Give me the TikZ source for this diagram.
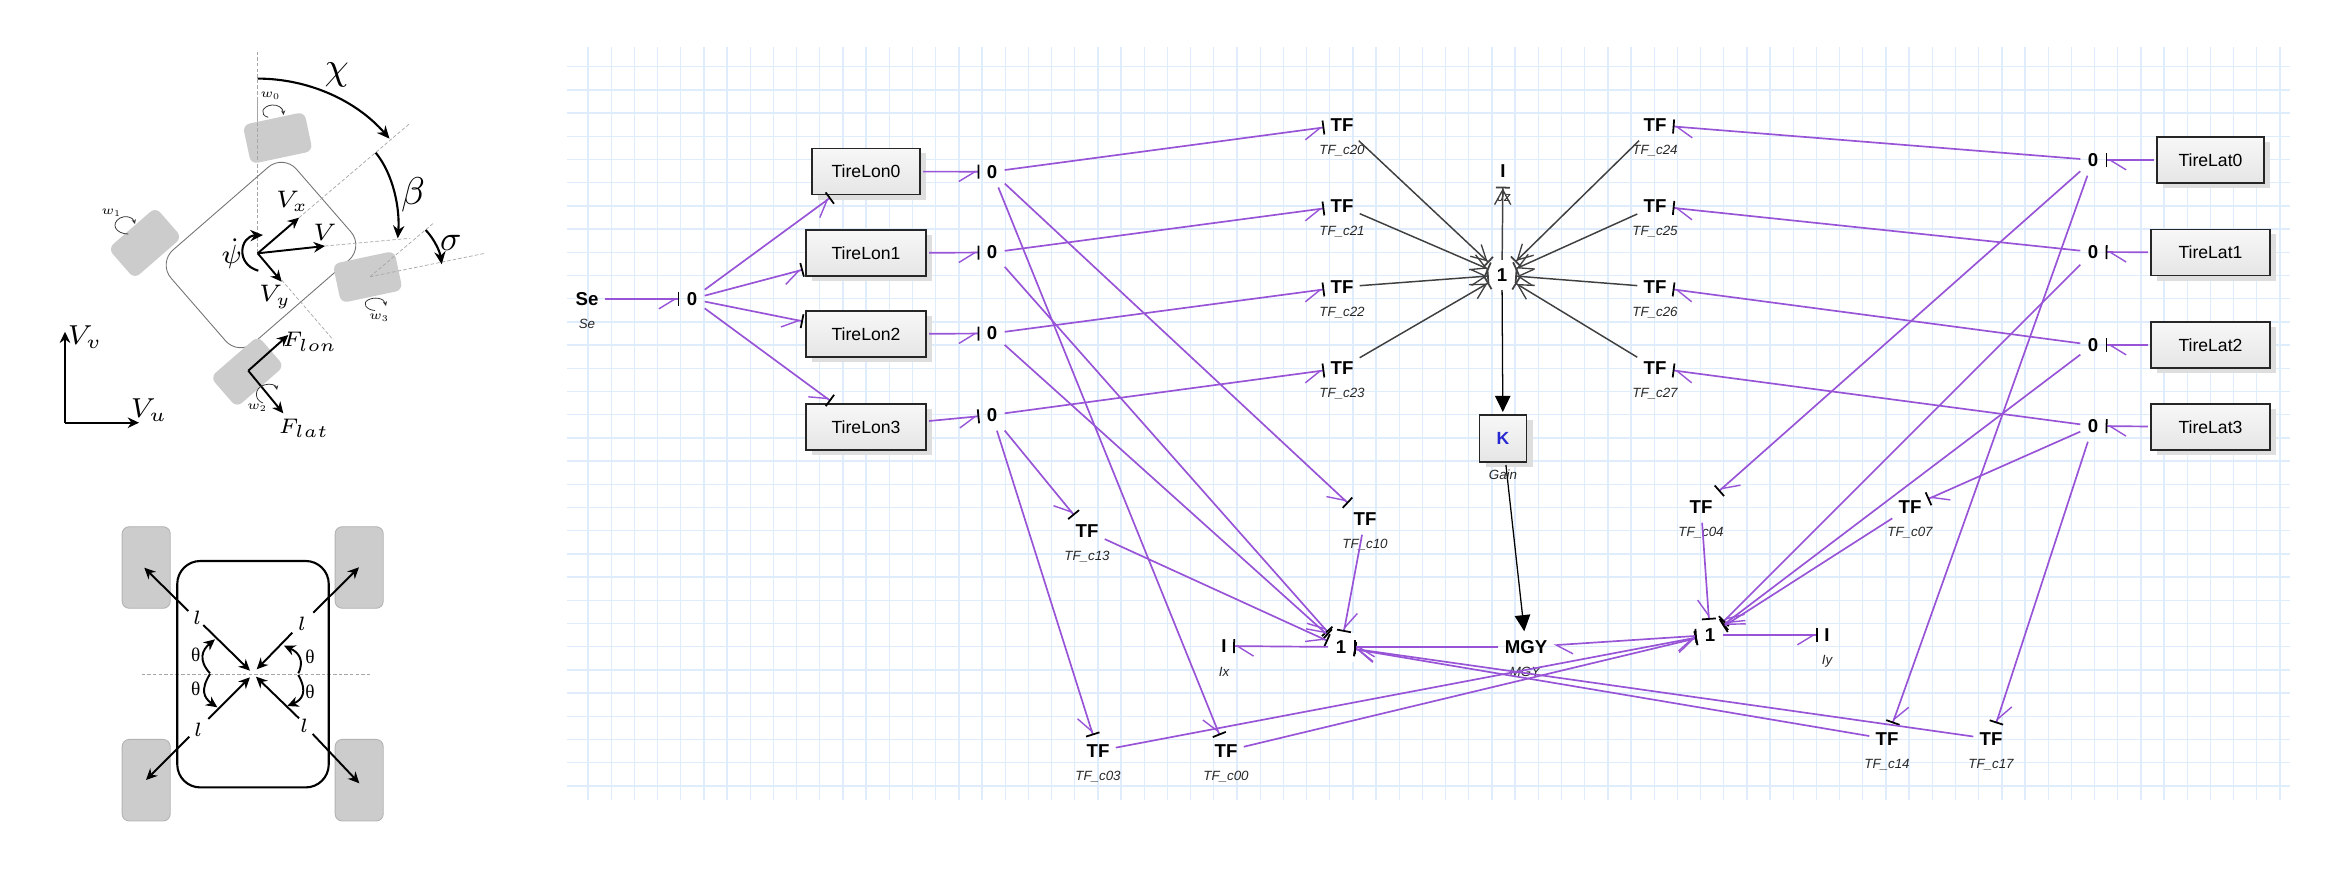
\documentclass[tikz,border=0pt]{standalone}
\usepackage{fix-cm}
\usepackage[no-math]{fontspec}
\setmainfont{Liberation Sans}
\newfontfamily\thetafont{Liberation Serif}
\usetikzlibrary{arrows.meta, shadows}
\definecolor{bondpurple}{RGB}{152, 84, 214}
\definecolor{bonddark}{RGB}{64, 64, 64}
\definecolor{gridblue}{RGB}{222, 236, 252}
\definecolor{tiregray}{RGB}{204, 204, 204}
\definecolor{kblue}{RGB}{40, 40, 210}
\newcommand{\pts}[1]{\fontsize{#1}{#1}\selectfont}
\tikzset{
  bondr/.style={bondpurple, line width=0.48pt,
    -{Straight Barb[right, length=4.6pt, width=5.6pt, line width=0.4pt] Bar[black, width=4pt, line width=0.5pt]}},
  bondl/.style={bondpurple, line width=0.48pt,
    -{Straight Barb[left, length=4.6pt, width=5.6pt, line width=0.4pt] Bar[black, width=4pt, line width=0.5pt]}},
  bonddk/.style={bonddark, line width=0.42pt,
    -{Straight Barb[length=4.2pt, width=4.6pt, line width=0.38pt] Bar[width=4pt, line width=0.5pt]}},
  bondkk/.style={black, line width=0.36pt, -{Triangle[length=4.6pt, width=4.4pt]}},
  elem/.style={font=\pts{5.3}\bfseries, inner sep=0pt, minimum width=0.34cm, minimum height=0.3cm},
  zeronode/.style={elem, minimum width=0.24cm},
  onenode/.style={elem, fill=white, minimum width=0.25cm, minimum height=0.29cm},
  inode/.style={elem, minimum width=0.17cm},
  mgynode/.style={elem, minimum width=0.54cm},
  bondlabel/.style={font=\pts{3.8}\itshape, inner sep=0pt, text=black!85},
  tirebox/.style={draw=black!85, line width=0.5pt, top color=black!3, bottom color=black!10,
    font=\pts{5}, inner sep=0pt, outer sep=0.03cm, minimum height=0.46cm, minimum width=1.2cm,
    drop shadow={shadow xshift=0.06cm, shadow yshift=-0.05cm, fill=black!13, opacity=1}},
  gridline/.style={gridblue, line width=0.38pt},
  wheel/.style={fill=tiregray, rounded corners=0.07cm, inner sep=0pt},
  guide/.style={black!35, line width=0.2pt, dash pattern=on 1pt off 0.6pt},
  kin/.style={black, line width=0.55pt, -{Stealth[length=3.2pt, width=3pt]}},
  bigarc/.style={black, line width=0.6pt, -{Stealth[length=3.6pt, width=3.2pt]}},
  spin/.style={black!80, line width=0.22pt, -{Stealth[length=1.3pt, width=1.2pt]}},
  mathsym/.style={inner sep=0pt, font=\pts{#1}},
  mathsym/.default=7.5,
}
\begin{document}
\begin{tikzpicture}[x=0.01cm, y=-0.01cm]
  \useasboundingbox (0,0) rectangle (2344,878);

  % top car
  \draw[guide] (257.7,51.7) -- (257.7,253.3);
  \node[draw=black!55, line width=0.25pt, rounded corners=0.2cm, rotate=41, minimum width=1.66cm,
    minimum height=1.23cm] (carbody) at (261,255) {};
  \node[wheel, rotate=12, minimum width=0.63cm, minimum height=0.4cm] (tire0) at (277.7,138) {};
  \node[wheel, rotate=41, minimum width=0.63cm, minimum height=0.4cm] (tire1) at (145,243) {};
  \node[wheel, rotate=41, minimum width=0.63cm, minimum height=0.4cm] (tire2) at (247.3,371.7) {};
  \node[wheel, rotate=12, minimum width=0.63cm, minimum height=0.4cm] (tire3) at (367.7,277) {};
  \draw[guide] (257.7,100) -- (257.7,160);
  \draw[guide] (299,217.7) -- (410,123.3);
  \draw[guide] (325,246) -- (410,238.3);
  \draw[guide] (281.7,280) -- (333.3,340);
  \draw[guide] (370,276.7) -- (433.3,223.3);
  \draw[guide] (370,276.7) -- (485,253.3);

  \coordinate (cg) at (257.7,253.3);
  \draw[kin] (cg) -- (299,217.7);
  \draw[kin] (cg) -- (325,246);
  \draw[kin] (cg) -- (281.7,281.7);
  \draw[kin] (248.3,370.7) -- (288.3,335);
  \draw[kin] (248.3,370.7) -- (283.3,413.3);
  \draw[kin] (65,422.7) -- (65,331.7);
  \draw[kin] (65,422.7) -- (139,422.7);

  \draw[bigarc] (257.7,78.6) .. controls (308.3,78.6) and (356.3,100.5) .. (389.5,138.7);
  \draw[bigarc] (375.7,152.7) .. controls (394,175) and (400,210) .. (397.7,238.3);
  \draw[bigarc] (425.7,230) .. controls (435,240) and (440,252) .. (441.7,264.3);
  \draw[bigarc] (258.3,270.7) .. controls (235,264) and (240,236) .. (263,235);

  \draw[spin] (268.3,117.3) .. controls (259,115) and (262,106) .. (272,105) .. controls (278,104.5) and (283,108) .. (283.5,115);
  \draw[spin] (128.3,234) .. controls (116,234) and (110,224) .. (120,218) .. controls (125,215) and (133,217) .. (135,224);
  \draw[spin] (263,403) .. controls (254,400) and (254,388) .. (264,385) .. controls (270,383) and (276,385) .. (277,390);
  \draw[spin] (375,310.5) .. controls (366,310) and (362,303) .. (368,300) .. controls (374,296.5) and (384,298) .. (386,306);

  \node[mathsym=11] (chi) at (336.7,75) {$\chi$};
  \node[mathsym=11] (beta) at (413,195) {$\beta$};
  \node[mathsym=10] (sigma) at (450.7,243) {$\sigma$};
  \node[mathsym=6.8] (vx) at (292,201.7) {$V_x$};
  \node[mathsym=6.8] (vtot) at (325,232.7) {$V$};
  \node[mathsym=6.8] (vy) at (275,296.7) {$V_y$};
  \node[mathsym=7.5] (psi) at (231.7,253.3) {$\dot\psi$};
  \node[mathsym=7.8] (vv) at (85,336.7) {$V_v$};
  \node[mathsym=7.8] (vu) at (149,410) {$V_u$};
  \node[mathsym=6] (flon) at (310,341.7) {$F_{lon}$};
  \node[mathsym=6] (flat) at (304,428.3) {$F_{lat}$};
  \node[mathsym=3.6] (w0) at (270.7,96) {$w_0$};
  \node[mathsym=3.6] (w1) at (111.7,212.7) {$w_1$};
  \node[mathsym=3.6] (w2) at (257.3,407.7) {$w_2$};
  \node[mathsym=3.6] (w3) at (379.3,317.7) {$w_3$};

  % bottom car
  \foreach \nm/\x/\y in {tl/146.2/567.5, tr/359.2/567.5, bl/146.2/780.2, br/359.2/780.2}{
    \node[wheel, draw=black!30, line width=0.25pt, minimum width=0.48cm, minimum height=0.815cm] (tire\nm) at (\x,\y) {};
  }
  \draw[guide] (141.7,674) -- (370,674);
  \node[draw=black, line width=0.6pt, rounded corners=0.23cm, minimum width=1.514cm, minimum height=2.263cm, inner sep=0pt] (body2) at (253,674.2) {};
  \draw[kin] (203.3,625) -- (250,670.7);
  \draw[kin] (188.3,611) -- (144.3,567.7);
  \draw[kin] (292.3,632.7) -- (256.7,669.3);
  \draw[kin] (313.3,612.7) -- (359,567.3);
  \draw[kin] (208.3,719) -- (250,677.3);
  \draw[kin] (189.3,736.7) -- (146,780);
  \draw[kin] (299,718.3) -- (256,676.7);
  \draw[kin] (312.7,734) -- (359.3,783.3);
  \draw[kin] (210,673.3) .. controls (198,660) and (202,650) .. (215,639.3);
  \draw[kin] (210,674) .. controls (200,690) and (204,698) .. (217.3,707.3);
  \draw[kin] (298.3,673.3) .. controls (305,660) and (298,652) .. (284,645.7);
  \draw[kin] (298.3,675) .. controls (308,692) and (302,700) .. (287.3,706);
  \foreach \nm/\x/\y in {a/197.3/617.3, b/302/624, c/198.3/729.3, d/304.3/725.7}{
    \node[mathsym=5.5] (ell\nm) at (\x,\y) {$l$};
  }
  \foreach \nm/\x/\y in {a/195.7/655, b/310/656.7, c/195.7/689, d/310/691.7}{
    \node[inner sep=0pt, font=\pts{5.5}] (th\nm) at (\x,\y) {\thetafont θ};
  }

  % bond graph grid
  \foreach \i in {0,...,73}{
    \draw[gridline] ({588+23.178*\i},47) -- ({588+23.178*\i},800);
  }
  \foreach \j in {0,...,31}{
    \draw[gridline] (567,{66.7+23.2*\j}) -- (2290,{66.7+23.2*\j});
  }

  \node[elem] (se) at (587,299) {Se};
  \node[bondlabel] (selab) at (587,324) {Se};
  \node[zeronode] (hub) at (692,299) {0};
  \foreach \n/\y/\w in {0/171.5/1.08, 1/253/1.2, 2/334/1.2, 3/427/1.2}{
    \node[tirebox, minimum width=\w cm] (lon\n) at (866,\y) {TireLon\n};
  }
  \foreach \n/\y in {0/171.7, 1/252.5, 2/333.5, 3/415}{
    \node[zeronode] (z\n) at (992,\y) {0};
  }
  \foreach \n/\y/\w in {0/160/1.07, 1/252.5/1.19, 2/345/1.19, 3/427/1.19}{
    \node[tirebox, minimum width=\w cm] (lat\n) at (2210.5,\y) {TireLat\n};
  }
  \foreach \n/\y in {0/160, 1/252, 2/345, 3/426}{
    \node[zeronode] (zr\n) at (2093,\y) {0};
  }
  \foreach \nm/\x/\y in {c20/1342/125, c21/1342/206, c22/1342/287, c23/1342/368,
      c24/1655/125, c25/1655/206, c26/1655/287, c27/1655/368,
      c13/1087/531, c10/1365/519, c03/1098/751, c00/1226/751,
      c04/1701/507, c07/1910/507, c14/1887/739, c17/1991/739}{
    \node[elem] (tf\nm) at (\x,\y) {TF};
    \node[bondlabel] (lab\nm) at (\x,\y+26) {TF\_\nm};
  }
  \node[onenode] (onetop) at (1502,275) {1};
  \node[onenode] (onel) at (1341,647) {1};
  \node[onenode] (oner) at (1710,635) {1};
  \node[inode] (iz) at (1503,171) {I};
  \node[bondlabel] (izlab) at (1504,197) {Jz};
  \node[inode] (ix) at (1224,646) {I};
  \node[bondlabel] (ixlab) at (1224,672) {Ix};
  \node[inode] (iy) at (1827,635) {I};
  \node[bondlabel] (iylab) at (1827,661) {Iy};
  \node[mgynode] (mgy) at (1526,647) {MGY};
  \node[bondlabel] (mgylab) at (1525,672) {MGY};
  \node[tirebox, minimum width=0.47cm, minimum height=0.47cm, font=\pts{5}\bfseries, text=kblue] (gain) at (1503,438.5) {K};
  \node[bondlabel] (gainlab) at (1503,475) {Gain};

  \draw[bondr] (se) -- (hub);
  \foreach \n in {0,1,2,3}{
    \draw[bondr] (hub) -- (lon\n);
    \draw[bondr] (lon\n) -- (z\n);
    \draw[bondl] (lat\n) -- (zr\n);
  }
  \foreach \a/\b in {z0/tfc20, z1/tfc21, z2/tfc22, z3/tfc23, z0/tfc00, z0/tfc10, z1/onel, z2/onel,
      z3/tfc13, z3/tfc03, tfc13/onel, tfc03/oner, tfc00/oner, tfc04/oner, oner/iy}{
    \draw[bondr] (\a) -- (\b);
  }
  \foreach \a/\b in {zr0/tfc24, zr1/tfc25, zr2/tfc26, zr3/tfc27, zr0/tfc04, zr0/tfc14, zr1/oner, zr2/oner,
      zr3/tfc07, zr3/tfc17, tfc07/oner, tfc14/onel, tfc17/onel, tfc10/onel, mgy/onel, onel/ix}{
    \draw[bondl] (\a) -- (\b);
  }
  \draw[bondpurple, line width=0.48pt, {Bar[black, width=4pt, line width=0.5pt]}-{Straight Barb[left, length=4.6pt, width=5.6pt, line width=0.4pt]}] (oner) -- (mgy);
  \foreach \a in {tfc20, tfc21, tfc22, tfc23, tfc24, tfc25, tfc26, tfc27}{
    \draw[bonddk] (\a) -- (onetop);
  }
  \draw[bonddk] (onetop) -- (iz);
  \draw[bondkk] (onetop) -- (gain);
  \draw[bondkk] (gain) -- (mgy);
\end{tikzpicture}
\end{document}
